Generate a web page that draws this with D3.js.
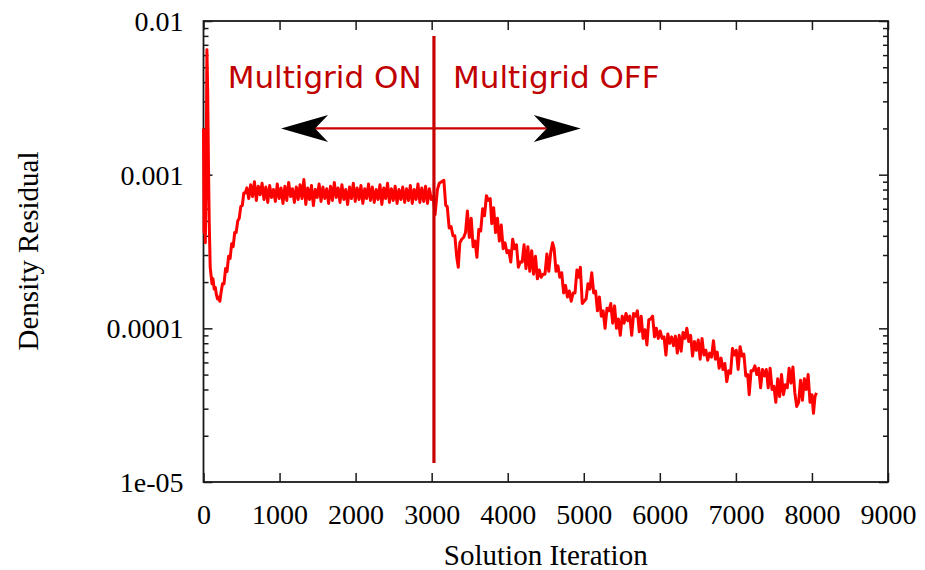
<!DOCTYPE html>
<html>
<head>
<meta charset="utf-8">
<script src="https://cdn.jsdelivr.net/npm/d3@7"></script>
<style>
  body { margin: 0; background: #fff; }
</style>
</head>
<body>
<div id="chart"></div>
<script>
const COLORS = {
    LINE: "#ff0000",
    MARKER: "#c80000",
    LABEL: "#c00000",
    ARROW_HEAD: "#000000",
    FRAME: "#1a1a1a",
    TEXT: "#000000"
};

// axis ticks
const xTicks = [0, 1000, 2000, 3000, 4000, 5000, 6000, 7000, 8000, 9000];
const xTickLabels = ["0", "1000", "2000", "3000", "4000", "5000", "6000", "7000", "8000", "9000"];
const yTicks = [1e-5, 1e-4, 1e-3, 1e-2];
const yTickLabels = ["1e-05", "0.0001", "0.001", "0.01"];

// annotations
const switchIteration = 3030;
const switchLineRange = [1.33e-5, 8.0e-3];
const arrowLevel = 2.0e-3;
const arrowTips = [1020, 4960];
const labelLevel = 3.67e-3;
const labelNames = ["Multigrid ON", "Multigrid OFF"];
const labelIterations = [318, 3282];

// density residual per iteration [iteration, residual]
const residual = [
    [0, 2.0e-3], [8, 4.2e-4], [16, 1.0e-3], [24, 3.6e-4], [34, 9.0e-4], [45, 6.5e-3], [55, 3.5e-3],
    [65, 1.2e-3], [75, 5.0e-4], [88, 2.5e-4], [100, 2.2e-4], [112, 1.95e-4], [125, 2.1e-4],
    [140, 1.8e-4], [155, 1.85e-4], [170, 1.65e-4], [185, 1.55e-4], [200, 1.6e-4], [215, 1.5e-4],
    [230, 1.7e-4], [250, 1.95e-4], [270, 1.95e-4], [290, 2.45e-4], [310, 2.35e-4], [330, 2.95e-4],
    [350, 2.85e-4], [370, 3.55e-4], [390, 3.4e-4], [410, 4.2e-4], [430, 4.2e-4], [450, 5.0e-4],
    [470, 5.2e-4], [490, 6.2e-4], [510, 6.3e-4], [530, 7.6e-4], [550, 7.6e-4],
    [570, 8.2e-4], [595, 7.0e-4], [620, 8.6e-4], [645, 7.2e-4], [670, 9.0e-4], [695, 6.8e-4],
    [720, 8.4e-4], [745, 7.4e-4], [770, 8.8e-4], [795, 6.9e-4], [820, 8.3e-4], [845, 6.6e-4],
    [870, 8.5e-4], [895, 7.1e-4], [920, 8.0e-4], [945, 6.7e-4], [970, 8.7e-4], [995, 7.0e-4],
    [1020, 8.2e-4], [1045, 6.5e-4], [1070, 8.4e-4], [1095, 6.8e-4], [1120, 8.9e-4], [1145, 7.2e-4],
    [1170, 8.1e-4], [1195, 6.6e-4], [1220, 8.3e-4], [1245, 6.9e-4], [1270, 8.6e-4], [1295, 7.0e-4],
    [1320, 9.3e-4], [1345, 6.4e-4], [1370, 8.2e-4], [1395, 6.9e-4], [1420, 8.5e-4], [1445, 6.3e-4],
    [1470, 8.0e-4], [1495, 7.1e-4], [1520, 8.7e-4], [1545, 6.7e-4], [1570, 8.3e-4], [1595, 7.0e-4],
    [1620, 8.1e-4], [1645, 6.5e-4], [1670, 8.4e-4], [1695, 6.8e-4], [1720, 8.9e-4], [1745, 7.1e-4],
    [1770, 8.2e-4], [1795, 6.6e-4], [1820, 8.6e-4], [1845, 6.9e-4], [1870, 8.0e-4], [1895, 6.4e-4],
    [1920, 8.3e-4], [1945, 7.0e-4], [1970, 8.8e-4], [1995, 6.7e-4], [2020, 8.2e-4], [2045, 6.9e-4],
    [2070, 8.5e-4], [2095, 6.5e-4], [2120, 8.1e-4], [2145, 7.0e-4], [2170, 8.7e-4], [2195, 6.8e-4],
    [2220, 8.3e-4], [2245, 6.6e-4], [2270, 8.0e-4], [2295, 6.9e-4], [2320, 8.6e-4], [2345, 6.4e-4],
    [2370, 8.2e-4], [2395, 7.0e-4], [2420, 8.8e-4], [2445, 6.6e-4], [2470, 8.1e-4], [2495, 6.8e-4],
    [2520, 8.4e-4], [2545, 6.5e-4], [2570, 8.0e-4], [2595, 6.9e-4], [2620, 8.3e-4], [2645, 6.6e-4],
    [2670, 8.1e-4], [2695, 6.8e-4], [2720, 8.5e-4], [2745, 6.5e-4], [2770, 8.0e-4], [2795, 6.9e-4],
    [2820, 8.7e-4], [2845, 6.6e-4], [2870, 8.2e-4], [2895, 6.7e-4], [2920, 8.4e-4], [2945, 6.5e-4],
    [2970, 8.1e-4], [2995, 6.9e-4],
    [3020, 7.2e-4], [3045, 5.5e-4], [3075, 8.0e-4], [3100, 8.8e-4], [3130, 9.0e-4], [3160, 9.2e-4],
    [3185, 6.3e-4], [3205, 6.2e-4], [3230, 4.5e-4], [3255, 4.6e-4], [3280, 4.0e-4], [3305, 4.0e-4],
    [3330, 2.9e-4], [3350, 2.5e-4], [3370, 3.6e-4], [3395, 3.8e-4], [3420, 3.9e-4], [3445, 4.2e-4],
    [3470, 5.8e-4], [3495, 3.9e-4], [3520, 5.2e-4], [3545, 3.4e-4], [3570, 3.7e-4], [3595, 2.9e-4],
    [3620, 4.4e-4], [3645, 4.3e-4], [3670, 6.0e-4], [3695, 5.4e-4], [3720, 7.3e-4], [3745, 6.8e-4],
    [3770, 7.0e-4], [3790, 4.8e-4], [3815, 6.1e-4], [3840, 4.2e-4], [3865, 5.2e-4], [3890, 3.7e-4],
    [3915, 4.7e-4], [3940, 3.3e-4], [3965, 3.6e-4], [3990, 3.1e-4], [4015, 3.2e-4], [4040, 2.7e-4],
    [4065, 3.8e-4], [4090, 3.3e-4], [4115, 3.5e-4], [4140, 2.5e-4], [4165, 2.7e-4], [4190, 2.7e-4],
    [4215, 3.5e-4], [4240, 2.45e-4], [4265, 3.4e-4], [4290, 2.35e-4], [4315, 3.2e-4], [4340, 2.25e-4],
    [4365, 2.95e-4], [4390, 2.1e-4], [4415, 2.4e-4], [4440, 2.15e-4], [4465, 2.25e-4], [4490, 2.25e-4],
    [4515, 3.05e-4], [4540, 2.35e-4], [4565, 3.1e-4], [4590, 3.6e-4], [4610, 3.3e-4], [4635, 2.35e-4],
    [4660, 2.55e-4], [4685, 2.15e-4], [4710, 2.3e-4], [4735, 1.7e-4], [4760, 1.9e-4], [4785, 1.6e-4],
    [4810, 1.75e-4], [4835, 1.5e-4], [4860, 1.7e-4], [4885, 1.7e-4], [4910, 2.4e-4], [4935, 2.15e-4],
    [4955, 2.5e-4], [4980, 1.45e-4], [5005, 1.5e-4], [5030, 1.55e-4], [5055, 1.95e-4], [5080, 1.8e-4],
    [5105, 2.3e-4], [5130, 1.7e-4], [5155, 1.75e-4], [5180, 1.3e-4], [5205, 1.6e-4], [5230, 1.2e-4],
    [5255, 1.3e-4], [5280, 1.0e-4], [5305, 1.35e-4], [5330, 1.3e-4], [5355, 1.45e-4], [5380, 1.08e-4],
    [5405, 1.4e-4], [5430, 1.0e-4], [5455, 1.15e-4], [5480, 9.0e-5], [5505, 1.2e-4], [5530, 1.08e-4],
    [5555, 1.25e-4], [5580, 1.12e-4], [5605, 1.2e-4], [5630, 9.0e-5], [5655, 1.25e-4], [5680, 1.2e-4],
    [5705, 1.3e-4], [5730, 9.5e-5], [5755, 1.2e-4], [5780, 8.6e-5], [5805, 9.8e-5], [5830, 7.8e-5],
    [5855, 1.14e-4], [5880, 1.15e-4], [5905, 1.2e-4], [5930, 8.8e-5], [5955, 1.0e-4], [5980, 8.6e-5],
    [6005, 9.6e-5], [6030, 8.6e-5], [6055, 8.8e-5], [6080, 6.7e-5], [6105, 9.2e-5], [6130, 8.0e-5],
    [6155, 8.8e-5], [6180, 7.7e-5], [6205, 8.9e-5], [6230, 6.9e-5], [6255, 9.0e-5], [6280, 7.1e-5],
    [6305, 9.4e-5], [6330, 8.6e-5], [6355, 1.0e-4], [6380, 8.2e-5], [6405, 9.0e-5], [6430, 6.6e-5],
    [6455, 8.2e-5], [6480, 7.2e-5], [6505, 8.4e-5], [6530, 6.3e-5], [6555, 8.6e-5], [6580, 6.7e-5],
    [6605, 7.2e-5], [6630, 6.2e-5], [6655, 6.9e-5], [6680, 6.5e-5], [6705, 8.3e-5], [6730, 6.3e-5],
    [6755, 7.0e-5], [6780, 5.5e-5], [6805, 6.4e-5], [6830, 5.4e-5], [6855, 5.9e-5], [6880, 4.5e-5],
    [6905, 5.3e-5], [6930, 5.1e-5], [6955, 7.4e-5], [6980, 6.7e-5], [7005, 7.2e-5], [7030, 5.4e-5],
    [7055, 7.6e-5], [7080, 6.6e-5], [7105, 6.8e-5], [7130, 4.9e-5], [7155, 5.0e-5], [7175, 3.7e-5],
    [7200, 5.3e-5], [7225, 5.3e-5], [7250, 5.7e-5], [7275, 5.0e-5], [7300, 5.5e-5], [7325, 4.1e-5],
    [7350, 5.4e-5], [7375, 4.9e-5], [7400, 5.4e-5], [7425, 4.1e-5], [7450, 5.5e-5], [7475, 4.0e-5],
    [7500, 4.2e-5], [7525, 3.3e-5], [7550, 4.7e-5], [7575, 3.6e-5], [7600, 5.0e-5], [7625, 3.7e-5],
    [7650, 4.3e-5], [7675, 4.1e-5], [7700, 5.5e-5], [7725, 4.4e-5], [7750, 5.6e-5], [7775, 3.8e-5],
    [7800, 3.1e-5], [7825, 3.3e-5], [7850, 4.6e-5], [7875, 3.4e-5], [7900, 4.7e-5], [7925, 4.0e-5],
    [7950, 5.0e-5], [7975, 3.3e-5], [8000, 3.7e-5], [8020, 2.8e-5], [8040, 3.6e-5], [8060, 3.8e-5]
];

const width = 925, height = 570;
const margin = {top: 21, right: 37, bottom: 88, left: 203.5};
const serif = "'Liberation Serif', 'Times New Roman', serif";
const sans = "'DejaVu Sans', sans-serif";

const x = d3.scaleLinear().domain([0, 9000]).range([margin.left, width - margin.right]);
const y = d3.scaleLog().domain([1e-5, 1e-2]).range([height - margin.bottom, margin.top]);
const yMinor = y.ticks().filter(v => !yTicks.some(t => Math.abs(t - v) / t < 1e-6));

const svg = d3.select("#chart").append("svg")
    .attr("width", width)
    .attr("height", height)
    .style("display", "block");

// ticks point inwards on all four sides
function drawAxis(axis, transform, withLabels) {
    const g = svg.append("g").attr("transform", transform).call(axis);
    g.select(".domain").remove();
    g.selectAll(".tick line").attr("stroke", COLORS.FRAME).attr("stroke-width", 1.5);
    if (withLabels) {
        g.selectAll(".tick text")
            .attr("fill", COLORS.TEXT)
            .style("font-family", serif)
            .style("font-size", "28px");
    } else {
        g.selectAll(".tick text").remove();
    }
    return g;
}

const plotBottom = height - margin.bottom;
const plotRight = width - margin.right;

drawAxis(d3.axisBottom(x).tickValues(xTicks).tickFormat((d, i) => xTickLabels[i]).tickSize(-9).tickPadding(22),
    `translate(0,${plotBottom})`, true);
drawAxis(d3.axisTop(x).tickValues(xTicks).tickSize(-9), `translate(0,${margin.top})`, false);
drawAxis(d3.axisLeft(y).tickValues(yTicks).tickFormat((d, i) => yTickLabels[i]).tickSize(-9).tickPadding(20),
    `translate(${margin.left},0)`, true)
    .selectAll(".tick text").attr("dy", "0.34em");
drawAxis(d3.axisLeft(y).tickValues(yMinor).tickSize(-5), `translate(${margin.left},0)`, false);
drawAxis(d3.axisRight(y).tickValues(yTicks).tickSize(-9), `translate(${plotRight},0)`, false);
drawAxis(d3.axisRight(y).tickValues(yMinor).tickSize(-5), `translate(${plotRight},0)`, false);

// frame
svg.append("rect")
    .attr("x", margin.left)
    .attr("y", margin.top)
    .attr("width", plotRight - margin.left)
    .attr("height", plotBottom - margin.top)
    .attr("fill", "none")
    .attr("stroke", COLORS.FRAME)
    .attr("stroke-width", 1.8);

// residual curve
const line = d3.line()
    .x(d => x(d[0]))
    .y(d => y(d[1]));

svg.append("path")
    .datum(residual)
    .attr("d", line)
    .attr("fill", "none")
    .attr("stroke", COLORS.LINE)
    .attr("stroke-width", 3)
    .attr("stroke-linejoin", "round");

// multigrid switch marker
svg.append("line")
    .attr("x1", x(switchIteration))
    .attr("x2", x(switchIteration))
    .attr("y1", y(switchLineRange[0]))
    .attr("y2", y(switchLineRange[1]))
    .attr("stroke", COLORS.MARKER)
    .attr("stroke-width", 3.2);

// double arrow
const headLen = 47, headNotch = 34, headHalf = 13.5;
const ay = y(arrowLevel);
const leftTip = x(arrowTips[0]);
const rightTip = x(arrowTips[1]);

svg.append("line")
    .attr("x1", leftTip + headNotch)
    .attr("x2", rightTip - headNotch)
    .attr("y1", ay)
    .attr("y2", ay)
    .attr("stroke", COLORS.MARKER)
    .attr("stroke-width", 2.4);

function arrowHead(tip, dir) {
    // dir = -1 points left, +1 points right
    const p = d3.path();
    p.moveTo(tip, ay);
    p.lineTo(tip - dir * headLen, ay - headHalf);
    p.lineTo(tip - dir * headNotch, ay);
    p.lineTo(tip - dir * headLen, ay + headHalf);
    p.closePath();
    return p.toString();
}
svg.append("path").attr("d", arrowHead(leftTip, -1)).attr("fill", COLORS.ARROW_HEAD);
svg.append("path").attr("d", arrowHead(rightTip, 1)).attr("fill", COLORS.ARROW_HEAD);

// ON / OFF labels
svg.selectAll("text.mg-label")
    .data(labelNames)
    .join("text")
    .attr("class", "mg-label")
    .attr("x", (d, i) => x(labelIterations[i]))
    .attr("y", y(labelLevel))
    .attr("fill", COLORS.LABEL)
    .style("font-family", sans)
    .style("font-size", "31px")
    .text(d => d);

// axis titles
svg.append("text")
    .attr("x", (margin.left + plotRight) / 2)
    .attr("y", 565)
    .attr("text-anchor", "middle")
    .attr("fill", COLORS.TEXT)
    .style("font-family", serif)
    .style("font-size", "29px")
    .text("Solution Iteration");

svg.append("text")
    .attr("transform", "translate(38,251) rotate(-90)")
    .attr("text-anchor", "middle")
    .attr("fill", COLORS.TEXT)
    .style("font-family", serif)
    .style("font-size", "29px")
    .text("Density Residual");
</script>
</body>
</html>
